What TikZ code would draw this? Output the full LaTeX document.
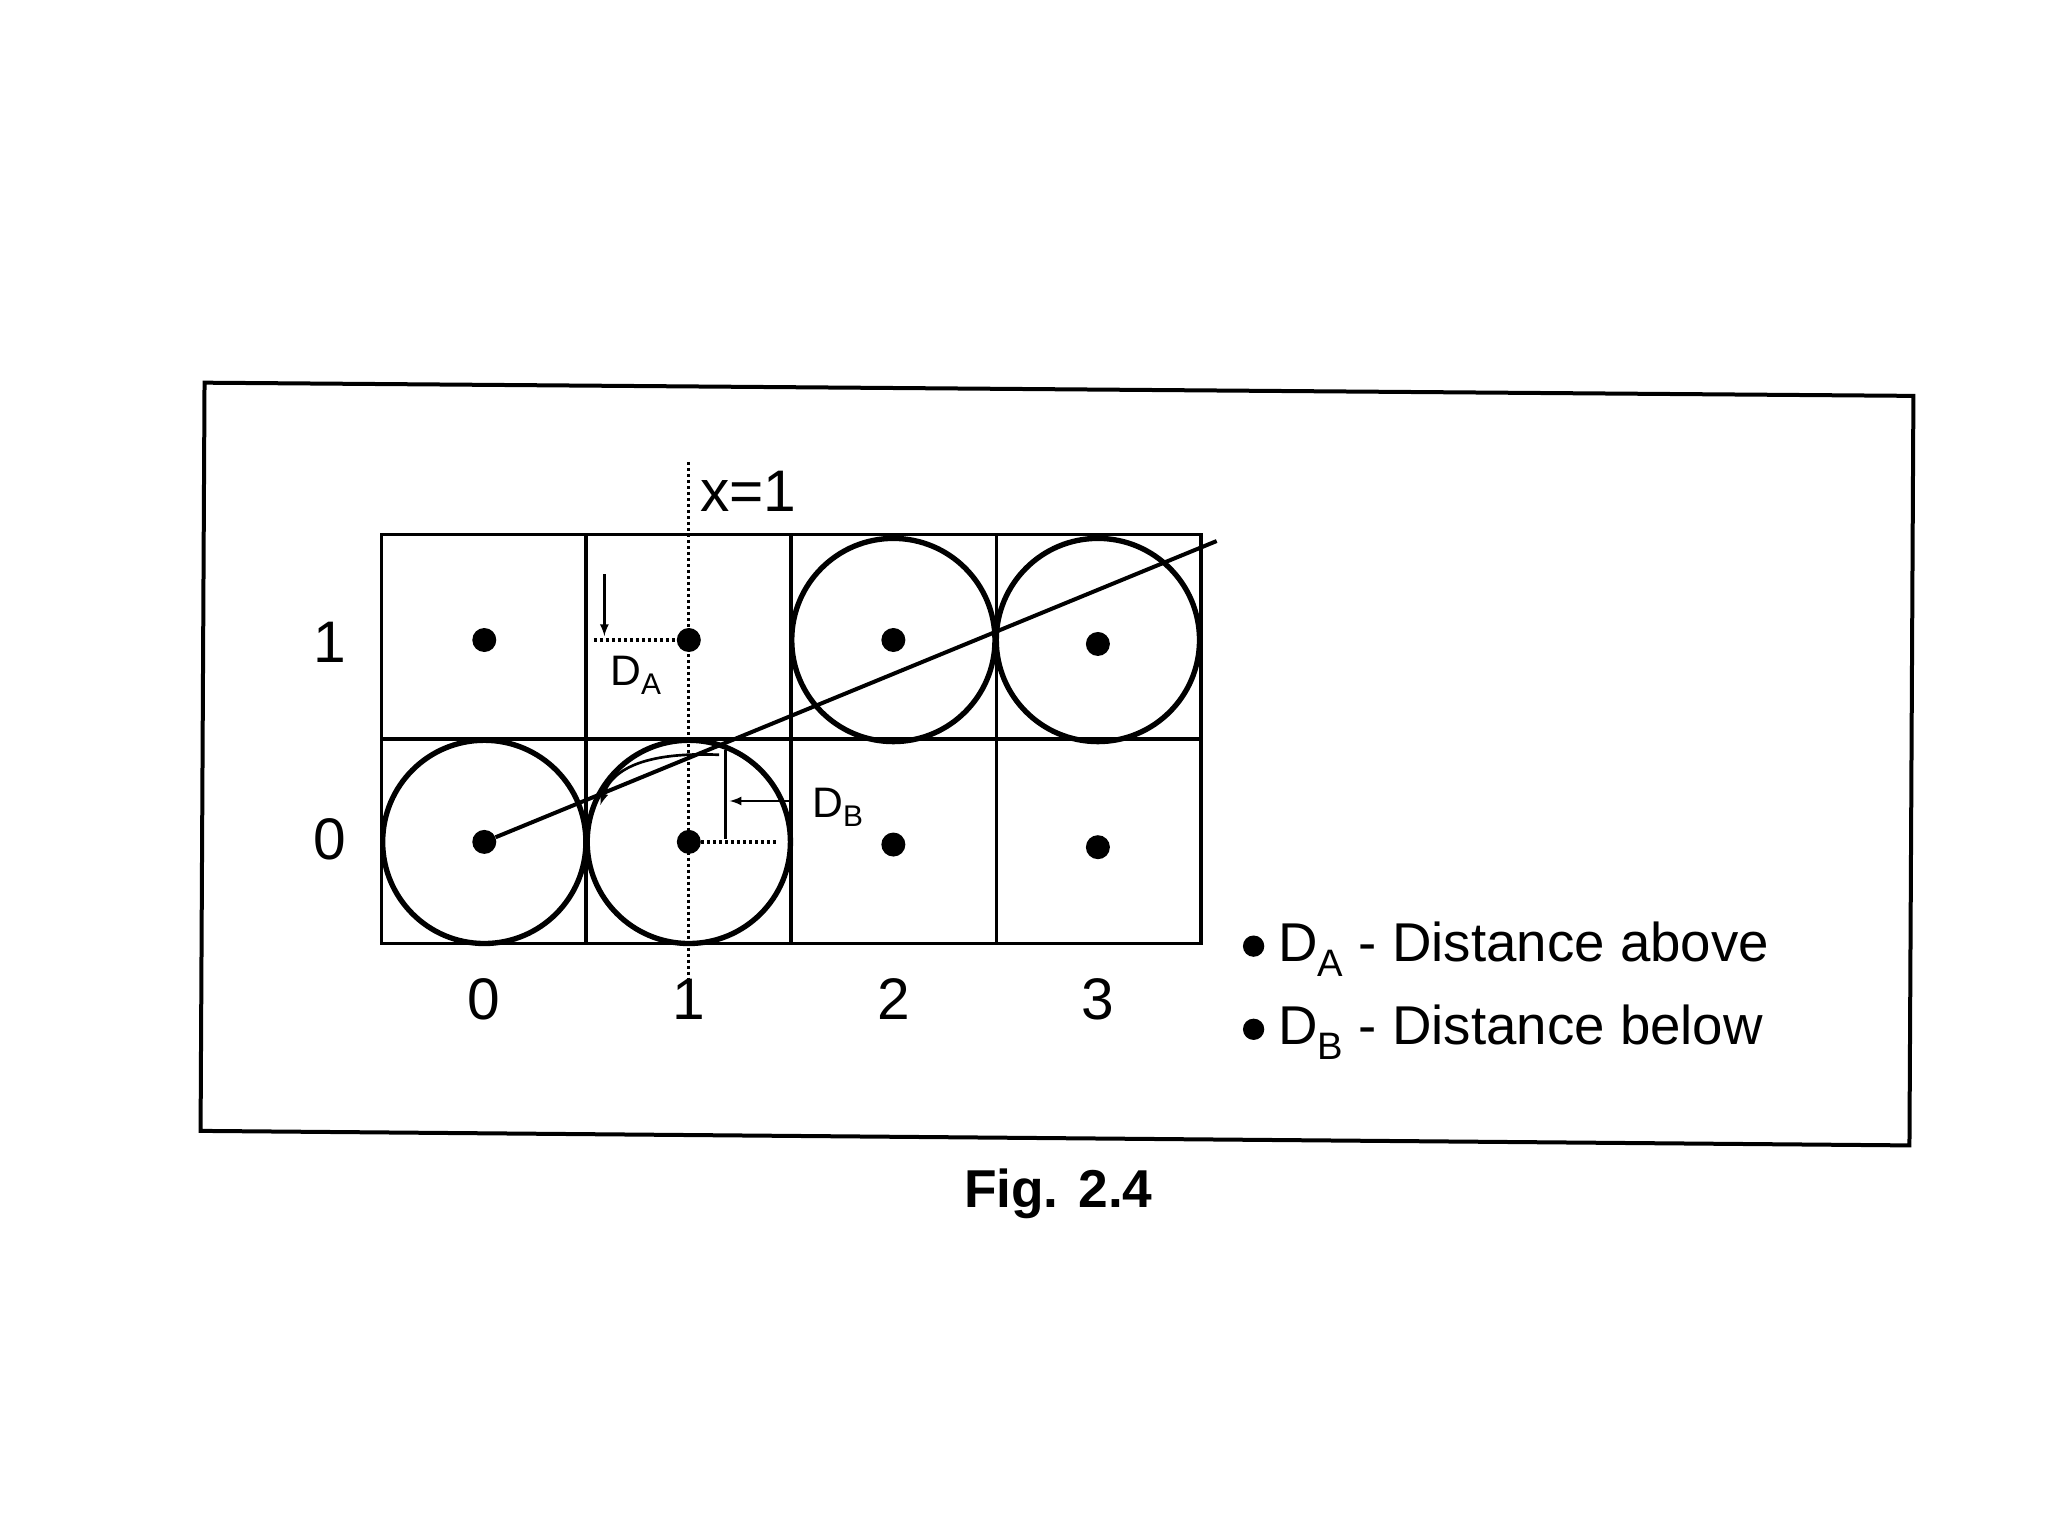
\documentclass[tikz,border=0pt]{standalone}
\usepackage{fontspec}
\setmainfont{Liberation Sans}
\begin{document}
\begin{tikzpicture}[x=0.99pt,y=-0.99pt,
  cell/.style={draw,line width=2.5pt},
  circ/.style={draw,line width=4pt},
  dot/.style={circle,fill,inner sep=0pt,minimum size=18pt},
  lab/.style={font=\fontsize{44}{48}\selectfont},
  leg/.style={font=\fontsize{41}{44}\selectfont,anchor=west}]
\useasboundingbox (0,0) rectangle (1552,1164);
\draw[line width=3pt] (155,290) -- (1450,300) -- (1447,868) -- (152,857) -- cycle;
% grid
\foreach \x in {289,444,600,755} \foreach \y in {405,560}
  \draw[cell] (\x,\y) rectangle ++(155,155);
% circles
\draw[circ] (367,638) circle (77);
\draw[circ] (522,638) circle (77);
\draw[circ] (677,485) circle (77);
\draw[circ] (832,485) circle (77);
% dots
\foreach \x/\y/\n in {367/485/a,522/485/b,677/485/c,832/488/d,367/638/e,522/638/f,677/640/g,832/642/h}
  \node[dot] (\n) at (\x,\y) {};
% line
\coordinate (lend) at (922,410);
\draw[line width=3pt] (e) -- (lend);
% x=1
\coordinate (vt) at (522,350); \coordinate (vb) at (522,770);
\draw[dotted,line width=2.5pt] (vt) -- (vb);
\node[lab,anchor=west] (xl) at (527,372) {x=1};
% axis labels
\node[lab] (r1) at (250,487) {1};
\node[lab] (r0) at (250,636) {0};
\foreach \x/\t in {367/0,522/1,677/2,832/3} \node[lab] (c\t) at (\x,757) {\t};
% D_A
\coordinate (da1) at (458,435); \coordinate (da2) at (458,482);
\draw[line width=2pt,-latex] (da1) -- (da2);
\coordinate (dah) at (450,485);
\draw[dotted,line width=2.5pt] (dah) -- (b);
\node[font=\fontsize{32}{36}\selectfont] (dal) at (482,512) {D\textsubscript{A}};
% D_B
\coordinate (db1) at (550,568); \coordinate (db2) at (550,636);
\draw[line width=2.5pt] (db1) -- (db2);
\coordinate (dbh) at (590,638);
\draw[dotted,line width=2.5pt] (f) -- (dbh);
\coordinate (dba) at (600,607); \coordinate (dbb) at (553,607);
\draw[line width=2pt,-latex] (dba) -- (dbb);
\node[font=\fontsize{32}{36}\selectfont,anchor=west] (dbl) at (612,612) {D\textsubscript{B}};
% small arc
\coordinate (ar1) at (455,610); \coordinate (ar2) at (545,572);
\draw[line width=2pt,-latex] (ar2) .. controls (500,570) and (465,578) .. (ar1);
% legend
\node[dot,minimum size=16pt] (l1) at (950,717) {};
\node[leg] (t1) at (965,719) {D\textsubscript{A} - Distance above};
\node[dot,minimum size=16pt] (l2) at (950,780) {};
\node[leg] (t2) at (965,782) {D\textsubscript{B} - Distance below};
% caption
\node[font=\bfseries\fontsize{40}{44}\selectfont] (cap) at (802,905) {Fig. 2.4};
\end{tikzpicture}
\end{document}
